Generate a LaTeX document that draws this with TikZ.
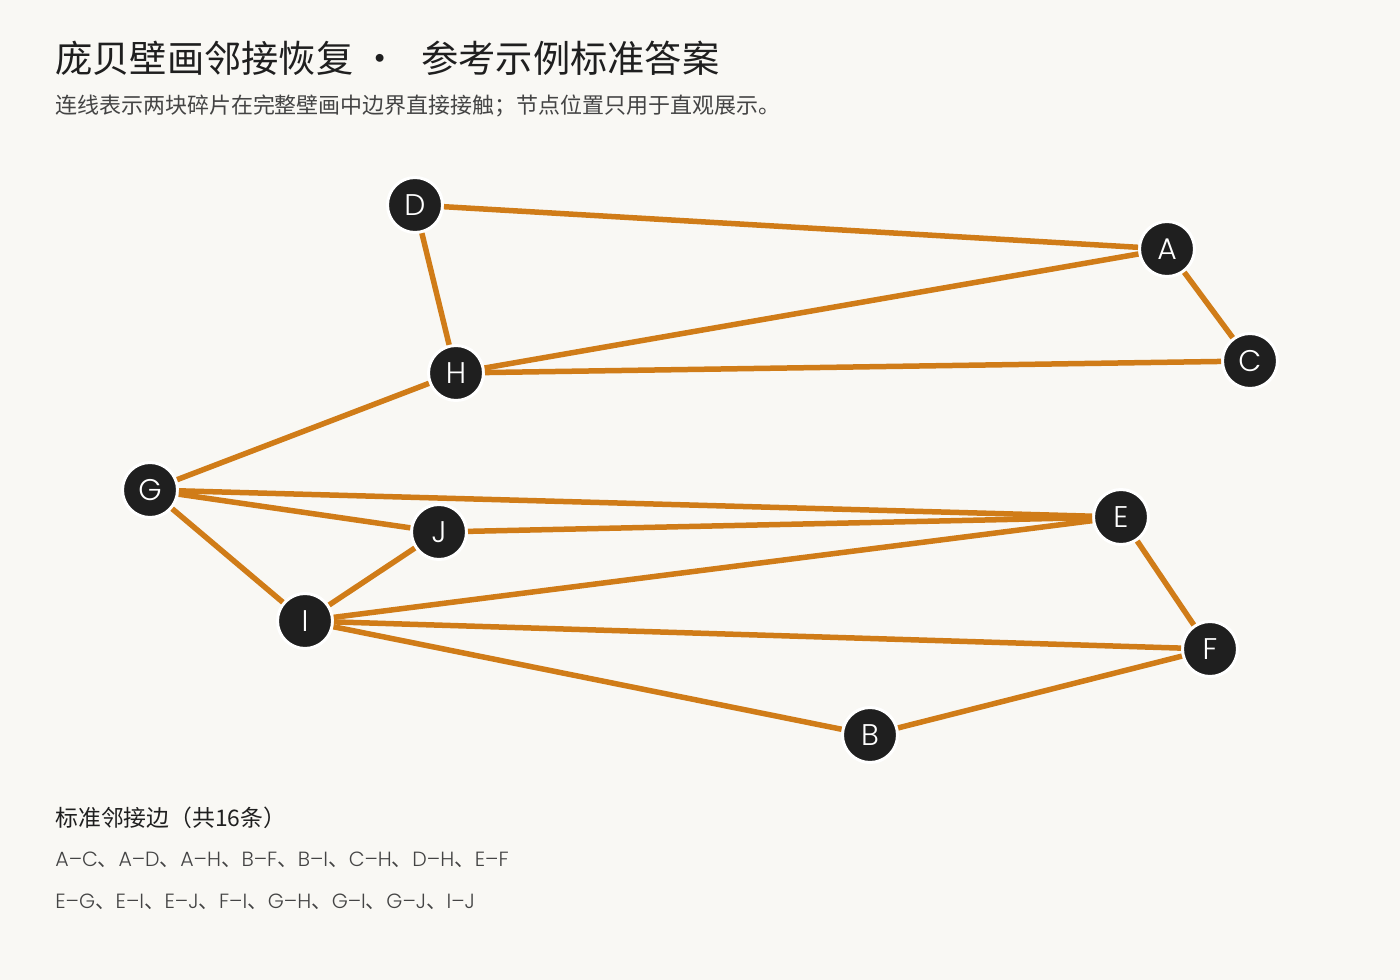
\documentclass[tikz,border=0pt]{standalone}
\usepackage{fontspec}
\setmainfont{Poppins}
\newfontfamily\cjk{Noto Sans CJK SC}
\newfontfamily\lightf{Poppins Light}
\usepackage{xcolor}
\definecolor{paper}{HTML}{F9F8F4}
\definecolor{ochre}{HTML}{D07C18}
\definecolor{ink}{HTML}{1F1F1F}
\definecolor{grayink}{HTML}{444444}

\begin{document}
\begin{tikzpicture}[x=0.02cm, y=-0.02cm,
  frag/.style={circle, fill=ink, draw=white, line width=0.06cm, minimum size=1.1cm, inner sep=0pt, text=white, font=\lightf\fontsize{17}{17}\selectfont},
  adj/.style={draw=ochre, line width=0.11cm},
  txt/.style={anchor=west, inner sep=0pt}]
\fill[paper] (0,0) rectangle (1400,980);
\node[txt, text=ink, font=\cjk\fontsize{21.2}{25}\selectfont] (title) at (55,58) {庞贝壁画邻接恢复 ·\hspace{0.6em}参考示例标准答案};
\node[txt, text=grayink, font=\cjk\fontsize{12.5}{15}\selectfont] (sub) at (55,106) {连线表示两块碎片在完整壁画中边界直接接触；节点位置只用于直观展示。};
\node[frag] (D) at (415,205) {D};
\node[frag] (A) at (1167,249) {A};
\node[frag] (C) at (1250,361) {C};
\node[frag] (H) at (456,373) {H};
\node[frag] (G) at (150,490) {G};
\node[frag] (E) at (1121,517) {E};
\node[frag] (J) at (439,532) {J};
\node[frag] (I) at (305,621) {I};
\node[frag] (F) at (1210,649) {F};
\node[frag] (B) at (870,735) {B};
\draw[adj] (A) -- (C);
\draw[adj] (A) -- (D);
\draw[adj] (A) -- (H);
\draw[adj] (B) -- (F);
\draw[adj] (B) -- (I);
\draw[adj] (C) -- (H);
\draw[adj] (D) -- (H);
\draw[adj] (E) -- (F);
\draw[adj] (E) -- (G);
\draw[adj] (E) -- (I);
\draw[adj] (E) -- (J);
\draw[adj] (F) -- (I);
\draw[adj] (G) -- (H);
\draw[adj] (G) -- (I);
\draw[adj] (G) -- (J);
\draw[adj] (I) -- (J);
\node[txt, text=ink, font=\cjk\fontsize{13}{16}\selectfont] (head) at (55,818) {标准邻接边（共16条）};
\node[txt, text=grayink, font=\lightf\fontsize{11.7}{14}\selectfont] (row1) at (55,860) {A–C{\cjk 、}A–D{\cjk 、}A–H{\cjk 、}B–F{\cjk 、}B–I{\cjk 、}C–H{\cjk 、}D–H{\cjk 、}E–F};
\node[txt, text=grayink, font=\lightf\fontsize{11.7}{14}\selectfont] (row2) at (55,902) {E–G{\cjk 、}E–I{\cjk 、}E–J{\cjk 、}F–I{\cjk 、}G–H{\cjk 、}G–I{\cjk 、}G–J{\cjk 、}I–J};
\end{tikzpicture}
\end{document}
